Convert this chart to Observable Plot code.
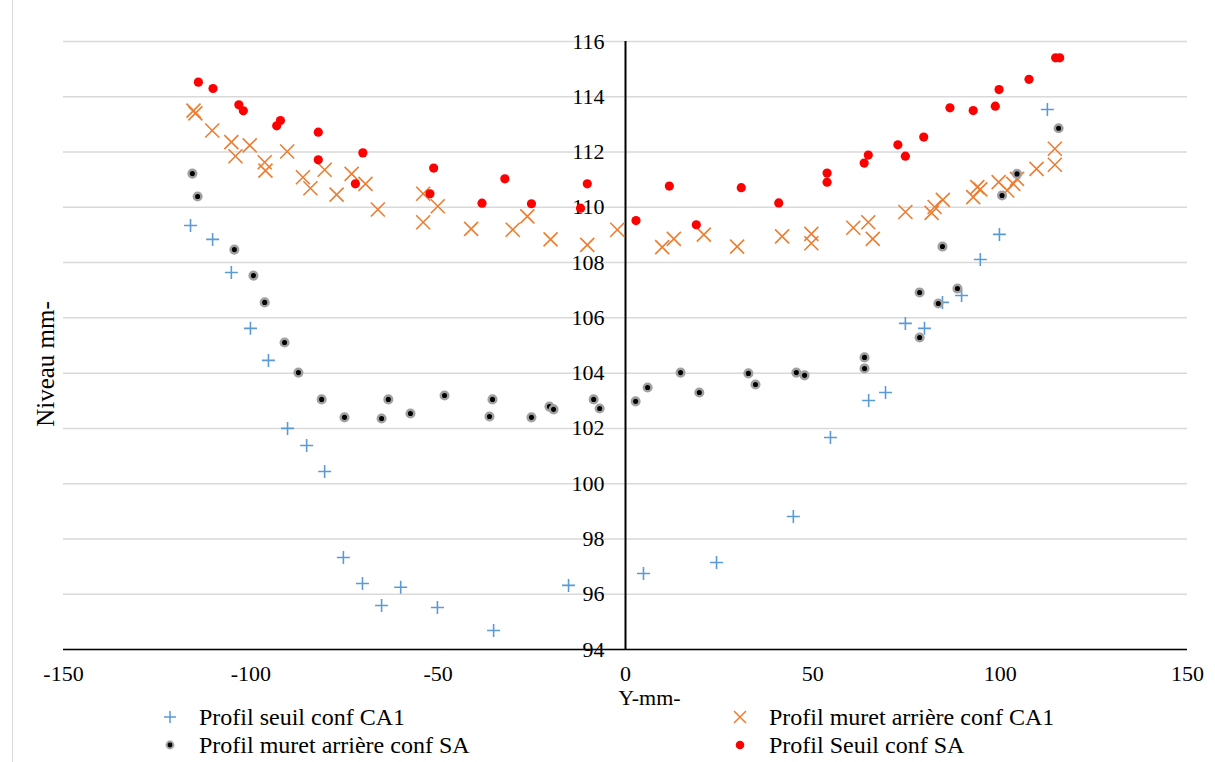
<!DOCTYPE html>
<html>
<head>
<meta charset="utf-8">
<script src="https://cdn.jsdelivr.net/npm/d3@7"></script>
<script src="https://cdn.jsdelivr.net/npm/@observablehq/plot@0.6"></script>
<style>
  body { margin: 0; background: #fff; font-family: "Liberation Serif", "DejaVu Serif", "Times New Roman", Times, serif; }
  #wrap { position: relative; width: 1215px; height: 762px; overflow: hidden; background: #fff; }
  #border { position: absolute; left: 12px; top: 0; width: 1px; height: 762px; background: #d9d9d9; }
  #chart { position: absolute; left: 0; top: 0; }
  #ytitle { position: absolute; left: 45px; top: 364px; font-size: 25px; line-height: 25px; white-space: nowrap; transform: translate(-50%, -50%) rotate(-90deg); color: #000; }
  .leg { position: absolute; font-size: 24px; line-height: 28px; height: 28px; white-space: nowrap; color: #000; display: flex; align-items: center; }
  .leg svg { margin-right: 21px; }
</style>
</head>
<body>
<div id="wrap">
  <div id="border"></div>
  <div id="chart"></div>
  <div id="ytitle"></div>
  <div id="legend"></div>
</div>
<script>
// ---- Data ----
const seriesNames = [
  "Profil seuil conf CA1",
  "Profil muret arrière conf CA1",
  "Profil muret arrière conf SA",
  "Profil Seuil conf SA"
];

const seuilCA1X = [-116.1,-110.2,-105.2,-100.1,-95.3,-90.2,-85.1,-80.3,-75.3,-70.2,-65.1,-60.0,-50.2,-35.2,-15.2,4.8,24.3,44.8,54.7,64.9,69.4,74.7,79.8,84.6,89.7,94.7,99.8,112.6];
const seuilCA1Y = [109.34,108.84,107.64,105.62,104.46,102.0,101.38,100.44,97.33,96.39,95.59,96.25,95.52,94.69,96.32,96.75,97.15,98.81,101.67,103.01,103.30,105.80,105.62,106.56,106.81,108.11,109.02,113.54];

const muretCA1X = [-115.3,-114.8,-110.3,-105.2,-104.1,-100.3,-96.3,-96.1,-90.3,-86.1,-84.1,-80.3,-77.1,-73.1,-69.4,-66.1,-54.0,-54.0,-50.1,-41.2,-30.1,-26.2,-20.0,-10.2,-2.2,9.8,12.9,20.9,29.8,41.8,49.6,49.6,60.8,64.8,66.0,74.7,81.7,82.5,84.7,92.8,93.9,94.7,99.6,101.9,103.5,104.5,109.7,114.6,114.6];
const muretCA1Y = [113.5,113.4,112.78,112.36,111.85,112.24,111.63,111.33,112.02,111.09,110.69,111.36,110.46,111.21,110.85,109.92,109.46,110.49,110.04,109.22,109.19,109.67,108.84,108.64,109.19,108.56,108.86,109.01,108.58,108.95,109.04,108.70,109.26,109.46,108.86,109.83,109.8,110.01,110.27,110.37,110.73,110.65,110.91,110.61,110.85,111.03,111.39,112.12,111.54];

const muretSAX = [-115.6,-114.2,-104.4,-99.3,-96.3,-91.0,-87.3,-81.1,-75.0,-65.1,-63.3,-57.4,-48.3,-36.3,-35.5,-25.1,-20.3,-19.2,-8.5,-6.9,2.7,5.9,14.7,19.7,32.8,34.7,45.6,47.8,63.8,63.8,78.5,78.5,83.5,84.6,88.6,100.5,104.5,115.6];
const muretSAY = [111.22,110.39,108.47,107.53,106.56,105.11,104.02,103.05,102.40,102.36,103.05,102.54,103.19,102.43,103.05,102.40,102.79,102.69,103.05,102.72,102.98,103.48,104.02,103.30,103.99,103.59,104.02,103.92,104.57,104.17,106.92,105.29,106.52,108.58,107.06,110.43,111.21,112.86];

const seuilSAX = [-114.0,-110.1,-103.2,-102.0,-93.1,-92.1,-82.0,-82.0,-72.1,-70.1,-52.2,-51.2,-38.3,-32.2,-25.1,-12.0,-10.2,2.8,11.7,18.9,30.9,40.9,53.8,53.8,63.7,64.8,72.7,74.7,79.6,86.6,92.8,98.7,99.7,107.7,114.8,115.9];
const seuilSAY = [114.53,114.30,113.71,113.49,112.95,113.14,112.72,111.72,110.85,111.97,110.49,111.42,110.15,111.03,110.13,109.97,110.85,109.52,110.77,109.37,110.71,110.16,111.24,110.91,111.60,111.89,112.26,111.85,112.54,113.60,113.50,113.66,114.26,114.63,115.41,115.41];

const xTicks = [-150, -100, -50, 0, 50, 100, 150];
const yTicks = [94, 96, 98, 100, 102, 104, 106, 108, 110, 112, 114, 116];
const xLabel = "Y-mm-";
const yLabel = "Niveau mm-";

// ---- Build tables ----
const pts = (xs, ys) => xs.map((x, i) => ({x, y: ys[i]}));
const dA = pts(seuilCA1X, seuilCA1Y);
const dB = pts(muretCA1X, muretCA1Y);
const dC = pts(muretSAX, muretSAY);
const dD = pts(seuilSAX, seuilSAY);

// custom symbols where r is the half-length of the arms
const plusSym = { draw(ctx, size) { const r = Math.sqrt(size / Math.PI); ctx.moveTo(-r, 0); ctx.lineTo(r, 0); ctx.moveTo(0, -r); ctx.lineTo(0, r); } };
const timesSym = { draw(ctx, size) { const r = Math.sqrt(size / Math.PI); ctx.moveTo(-r, -r); ctx.lineTo(r, r); ctx.moveTo(-r, r); ctx.lineTo(r, -r); } };

const font = '"Liberation Serif", "DejaVu Serif", "Times New Roman", Times, serif';

const chart = Plot.plot({
  width: 1215,
  height: 705,
  marginLeft: 63,
  marginRight: 28,
  marginTop: 41,
  marginBottom: 56,
  x: { domain: [-150, 150], axis: null },
  y: { domain: [94, 116], axis: null },
  style: { fontFamily: font, fontSize: "22px", color: "#000", background: "transparent", overflow: "visible" },
  marks: [
    Plot.gridY(yTicks, { stroke: "#d9d9d9", strokeOpacity: 1, strokeWidth: 1.5 }),
    Plot.ruleY([94], { stroke: "#000", strokeWidth: 1.5 }),
    Plot.ruleX([0], { stroke: "#000", strokeWidth: 2 }),
    Plot.text(xTicks, { x: d => d, text: d => String(d), frameAnchor: "bottom", dy: 24, fontSize: 22, fontFamily: font, lineAnchor: "middle" }),
    Plot.text(yTicks, { x: 0, y: d => d, text: d => String(d), dx: -21, textAnchor: "end", fontSize: 22, fontFamily: font, lineAnchor: "middle" }),
    Plot.text([xLabel], { x: 0, frameAnchor: "bottom", dx: 24, dy: 48, fontSize: 22, fontFamily: font, lineAnchor: "middle" }),
    Plot.dot(dA, { x: "x", y: "y", symbol: plusSym, r: 6.5, fill: "none", stroke: "#5b9bd5", strokeWidth: 1.6 }),
    Plot.dot(dB, { x: "x", y: "y", symbol: timesSym, r: 7, fill: "none", stroke: "#ed7d31", strokeWidth: 1.6 }),
    Plot.dot(dC, { x: "x", y: "y", r: 3.8, fill: "#000", stroke: "#a0a0a0", strokeWidth: 2.5 }),
    Plot.dot(dD, { x: "x", y: "y", r: 4.6, fill: "#ff0000", stroke: "none" })
  ]
});
document.getElementById("chart").appendChild(chart);
document.getElementById("ytitle").textContent = yLabel;

// ---- Legend ----
const legendMarkers = [
  '<svg width="16" height="16" viewBox="-8 -8 16 16"><path d="M-6,0H6M0,-6V6" stroke="#5b9bd5" stroke-width="1.5"/></svg>',
  '<svg width="16" height="16" viewBox="-8 -8 16 16"><path d="M-6,-6L6,6M-6,6L6,-6" stroke="#ed7d31" stroke-width="1.5"/></svg>',
  '<svg width="16" height="16" viewBox="-8 -8 16 16"><circle r="3.4" fill="#000" stroke="#a0a0a0" stroke-width="2"/></svg>',
  '<svg width="16" height="16" viewBox="-8 -8 16 16"><circle r="4.3" fill="#ff0000"/></svg>'
];
const legPos = [ [162, 703], [732, 703], [162, 731], [732, 731] ];
const legend = document.getElementById("legend");
seriesNames.forEach((name, i) => {
  const el = document.createElement("div");
  el.className = "leg";
  el.style.left = legPos[i][0] + "px";
  el.style.top = legPos[i][1] + "px";
  el.innerHTML = legendMarkers[i] + "<span>" + name + "</span>";
  legend.appendChild(el);
});
</script>
</body>
</html>
